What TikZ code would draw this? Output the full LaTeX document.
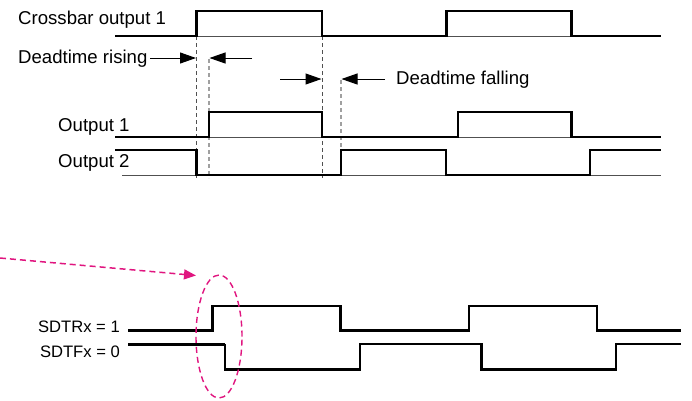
\documentclass[tikz,border=0pt]{standalone}
\usepackage{fontspec}
\setmainfont{Liberation Sans}
\usetikzlibrary{arrows.meta,shapes.geometric}
\definecolor{mag}{HTML}{E0157F}
\definecolor{dgrey}{HTML}{505050}
\definecolor{lgrey}{HTML}{A0A0A0}
\begin{document}
\begin{tikzpicture}[x=1pt,y=-1pt,
  sig/.style={line width=2.2pt,black,line join=miter},
  base/.style={line width=1pt,dgrey},
  dl/.style={line width=0.9pt,dgrey,dash pattern=on 4pt off 3pt},
  ll/.style={line width=1.1pt,lgrey,dash pattern=on 4pt off 3pt},
  dim/.style={line width=1pt,-{Triangle[length=16pt,width=11pt]}},
  lab/.style={inner sep=0pt,font=\fontsize{18.6}{20}\selectfont},
  slab/.style={inner sep=0pt,font=\fontsize{16.6}{20}\selectfont}]
\useasboundingbox (0,0) rectangle (692,400);
% labels
\node[lab,anchor=base west] (tcb) at (18,24) {Crossbar output 1};
\node[lab,anchor=base west] (tdr) at (18,63) {Deadtime rising};
\node[lab,anchor=base west] (tdf) at (396,84) {Deadtime falling};
\node[lab,anchor=base west] (to1) at (58,131) {Output 1};
\node[lab,anchor=base west] (to2) at (58,167) {Output 2};
\node[slab,anchor=base east] (tsr) at (120,332) {SDTRx = 1};
\node[slab,anchor=base east] (tsf) at (120,357) {SDTFx = 0};
% dashed guide lines
\draw[dl] (196.5,36) -- (196.5,178);
\draw[dl] (322,36) -- (322,178);
\draw[ll] (209,59) -- (209,178);
\draw[ll] (341,80) -- (341,178);
% baselines
\draw[base] (115,36) -- (661,36);
\draw[base] (115,137) -- (661,137);
\draw[base] (122,175) -- (661,175);
% crossbar output 1
\draw[sig] (115,36) -- (196.5,36) -- (196.5,11) -- (322,11) -- (322,36) -- (446.5,36) -- (446.5,11) -- (571.5,11) -- (571.5,36) -- (661,36);
% output 1
\draw[sig] (115,137) -- (209,137) -- (209,112) -- (322,112) -- (322,137) -- (458,137) -- (458,112) -- (571.5,112) -- (571.5,137) -- (661,137);
% output 2
\draw[sig] (115,150) -- (196.5,150) -- (196.5,175) -- (341,175) -- (341,150) -- (446,150) -- (446,175) -- (590,175) -- (590,150) -- (661,150);
% dimension arrows
\coordinate (r1a) at (150,58);
\coordinate (r1b) at (196,58);
\coordinate (r2a) at (252,58);
\coordinate (r2b) at (209.5,58);
\coordinate (f1a) at (280,79);
\coordinate (f1b) at (321.5,79);
\coordinate (f2a) at (385,79);
\coordinate (f2b) at (341.5,79);
\draw[dim] (r1a) -- (r1b);
\draw[dim] (r2a) -- (r2b);
\draw[dim] (f1a) -- (f1b);
\draw[dim] (f2a) -- (f2b);
% bottom waveforms
\draw[sig] (128,330.5) -- (212.5,330.5) -- (212.5,306) -- (340.5,306) -- (340.5,330.5) -- (469,330.5) -- (469,306) -- (597,306) -- (597,330.5) -- (681,330.5);
\draw[sig,line width=3pt] (128,344) -- (225,344);
\draw[sig] (225,344) -- (225,369.5) -- (360,369.5) -- (360,344) -- (481.5,344) -- (481.5,369.5) -- (616,369.5) -- (616,344) -- (681,344);
% magenta highlight
\node[draw=mag,line width=1.4pt,dash pattern=on 6pt off 4pt,ellipse,minimum width=46pt,minimum height=123pt,inner sep=0pt] (ell) at (219,336.5) {};
\coordinate (ms) at (0,258);
\coordinate (me) at (196,275.5);
\draw[mag,line width=1.5pt,dash pattern=on 6pt off 4pt,-{Triangle[length=12pt,width=10pt]}] (ms) -- (me);
\end{tikzpicture}
\end{document}
